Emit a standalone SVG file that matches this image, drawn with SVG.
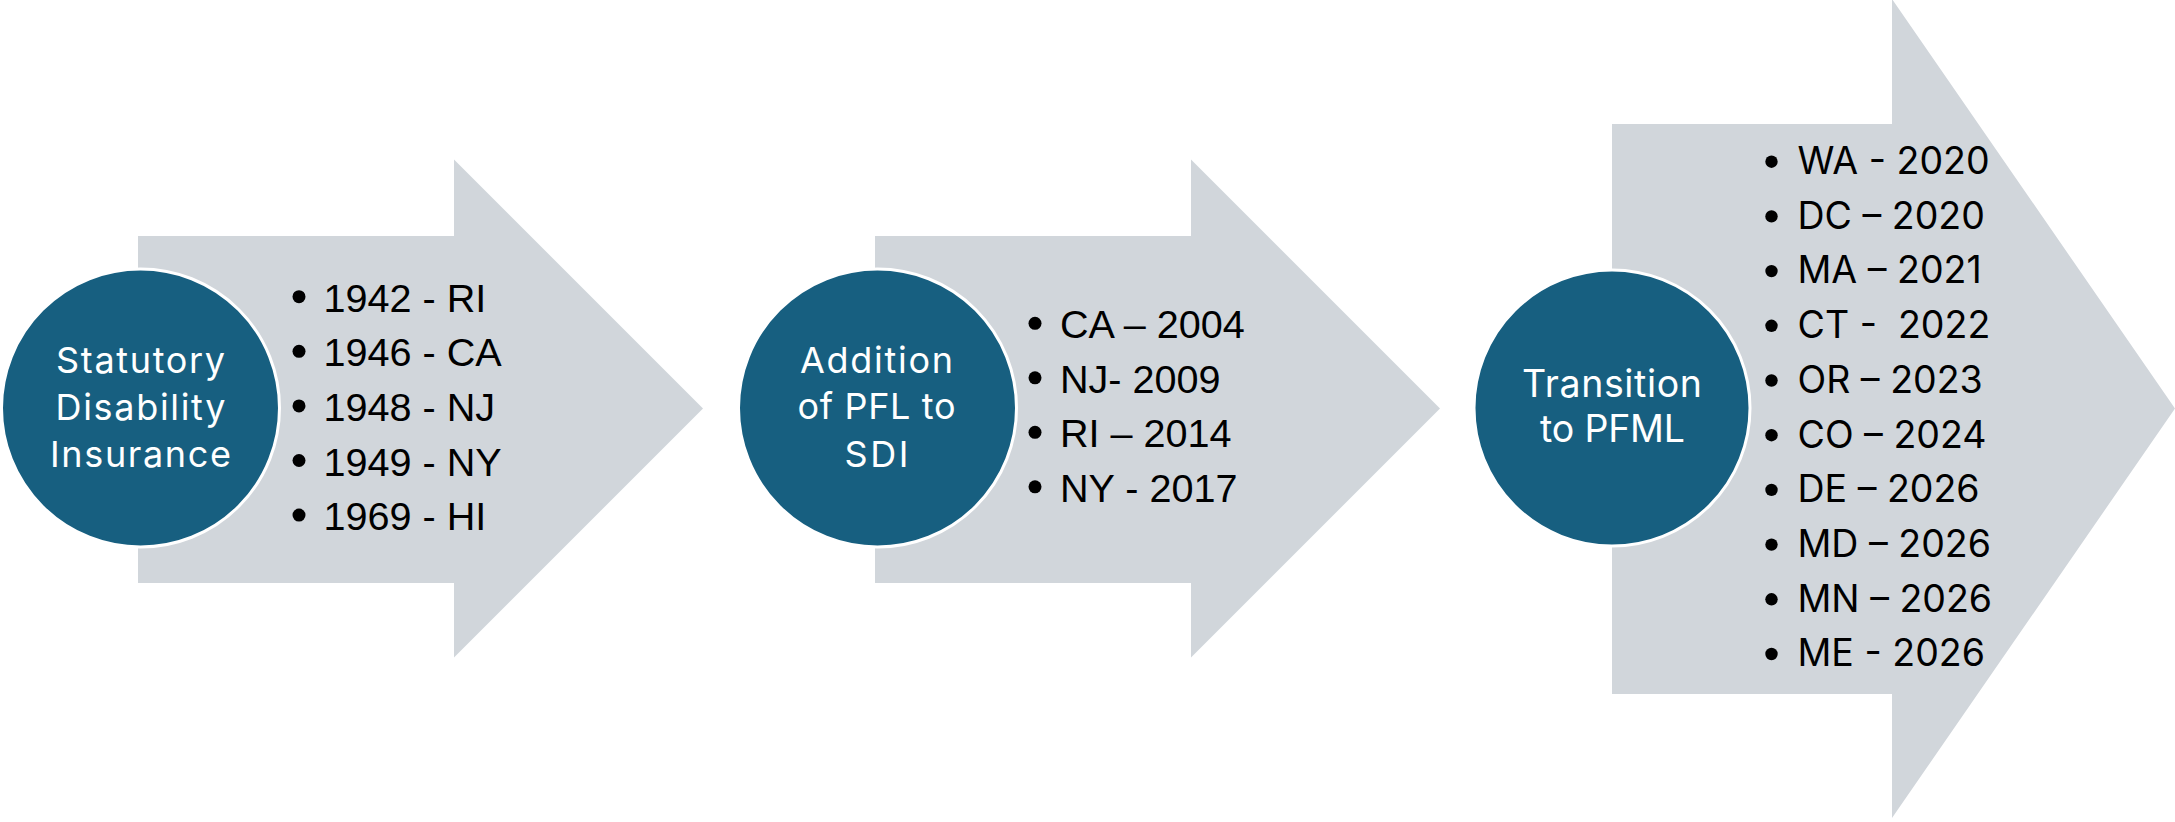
<svg xmlns="http://www.w3.org/2000/svg" width="2175" height="822" viewBox="0 0 2175 822">
  <style>
    .arrow { fill: #d1d6db; }
    .hub { fill: #175f80; stroke: #ffffff; stroke-width: 3; }
    .hubtxt { font-family: Inter, "Liberation Sans", sans-serif; font-size: 36px; fill: #ffffff; text-anchor: middle; }
    .hubtxt3 { font-family: Inter, "Liberation Sans", sans-serif; font-size: 37.5px; fill: #ffffff; text-anchor: middle; }
    .item { font-family: "Liberation Sans", Arial, sans-serif; font-size: 39.6px; fill: #000000; white-space: pre; }
    .item3 { font-family: Inter, "Liberation Sans", sans-serif; font-size: 37.5px; fill: #000000; white-space: pre; }
    .dot { fill: #000000; }
  </style>

  <g id="connectors">
    <polygon id="arrow1" class="arrow" points="138,236 454,236 454,159.5 703,408.5 454,657.5 454,583 138,583"/>
    <polygon id="arrow2" class="arrow" points="875,236 1191,236 1191,159.5 1440,408.5 1191,657.5 1191,583 875,583"/>
    <polygon id="arrow3" class="arrow" points="1612,124 1892,124 1892,-1 2175,408.5 1892,818 1892,694 1612,694"/>
  </g>

  <g id="node-sdi">
    <circle class="hub" cx="140.5" cy="408" r="139"/>
    <text class="hubtxt" x="140.5" y="373" textLength="169" lengthAdjust="spacing">Statutory</text>
    <text class="hubtxt" x="140.5" y="419.5" textLength="170" lengthAdjust="spacing">Disability</text>
    <text class="hubtxt" x="140.5" y="466.5" textLength="181" lengthAdjust="spacing">Insurance</text>
  </g>
  <g id="list-sdi">
    <circle class="dot" cx="299" cy="296.7" r="6.5"/>
    <circle class="dot" cx="299" cy="351.3" r="6.5"/>
    <circle class="dot" cx="299" cy="405.9" r="6.5"/>
    <circle class="dot" cx="299" cy="460.5" r="6.5"/>
    <circle class="dot" cx="299" cy="515.1" r="6.5"/>
    <text class="item" x="323.5" y="311.7">1942 - RI</text>
    <text class="item" x="323.5" y="366.3">1946 - CA</text>
    <text class="item" x="323.5" y="420.9">1948 - NJ</text>
    <text class="item" x="323.5" y="475.5">1949 - NY</text>
    <text class="item" x="323.5" y="530.1">1969 - HI</text>
  </g>

  <g id="node-pfl">
    <circle class="hub" cx="877.5" cy="408" r="139"/>
    <text class="hubtxt" x="876.5" y="373.3" textLength="153" lengthAdjust="spacing">Addition</text>
    <text class="hubtxt" x="876.5" y="419.3" textLength="158" lengthAdjust="spacing">of PFL to</text>
    <text class="hubtxt" x="876.5" y="466.7" textLength="64" lengthAdjust="spacing">SDI</text>
  </g>
  <g id="list-pfl">
    <circle class="dot" cx="1035" cy="323.3" r="6.5"/>
    <circle class="dot" cx="1035" cy="377.8" r="6.5"/>
    <circle class="dot" cx="1035" cy="432.3" r="6.5"/>
    <circle class="dot" cx="1035" cy="486.8" r="6.5"/>
    <text class="item" x="1060" y="338.3">CA – 2004</text>
    <text class="item" x="1060" y="392.8">NJ- 2009</text>
    <text class="item" x="1060" y="447.3">RI – 2014</text>
    <text class="item" x="1060" y="501.8">NY - 2017</text>
  </g>

  <g id="node-pfml">
    <circle class="hub" cx="1612" cy="408" r="138"/>
    <text class="hubtxt3" x="1612" y="396.7" textLength="180" lengthAdjust="spacing">Transition</text>
    <text class="hubtxt3" x="1612.5" y="441.7" textLength="145" lengthAdjust="spacing">to PFML</text>
  </g>
  <g id="list-pfml">
    <circle class="dot" cx="1771.5" cy="161.7" r="6.2"/>
    <circle class="dot" cx="1771.5" cy="216.4" r="6.2"/>
    <circle class="dot" cx="1771.5" cy="271.1" r="6.2"/>
    <circle class="dot" cx="1771.5" cy="325.8" r="6.2"/>
    <circle class="dot" cx="1771.5" cy="380.5" r="6.2"/>
    <circle class="dot" cx="1771.5" cy="435.2" r="6.2"/>
    <circle class="dot" cx="1771.5" cy="489.9" r="6.2"/>
    <circle class="dot" cx="1771.5" cy="544.6" r="6.2"/>
    <circle class="dot" cx="1771.5" cy="599.3" r="6.2"/>
    <circle class="dot" cx="1771.5" cy="654" r="6.2"/>
    <text class="item3" x="1797.5" y="174">WA - 2020</text>
    <text class="item3" x="1797.5" y="228.7">DC – 2020</text>
    <text class="item3" x="1797.5" y="283.4">MA – 2021</text>
    <text class="item3" x="1797.5" y="338.1">CT -  2022</text>
    <text class="item3" x="1797.5" y="392.8">OR – 2023</text>
    <text class="item3" x="1797.5" y="447.5">CO – 2024</text>
    <text class="item3" x="1797.5" y="502.2">DE – 2026</text>
    <text class="item3" x="1797.5" y="556.9">MD – 2026</text>
    <text class="item3" x="1797.5" y="611.6">MN – 2026</text>
    <text class="item3" x="1797.5" y="666.3">ME - 2026</text>
  </g>
</svg>
